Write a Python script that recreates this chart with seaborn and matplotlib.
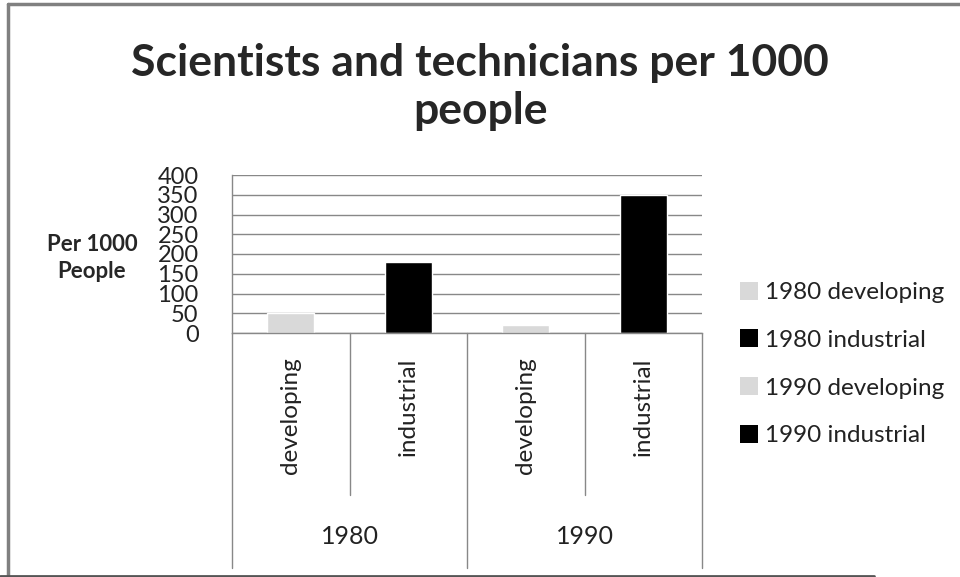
import matplotlib
matplotlib.use("Agg")
import matplotlib.pyplot as plt
import matplotlib.transforms as mtransforms
from matplotlib.patches import Patch
from matplotlib.lines import Line2D
import pandas as pd
import seaborn as sns

# data
years = ["1980", "1980", "1990", "1990"]
groups = ["developing", "industrial", "developing", "industrial"]
values = [50, 180, 20, 350]
bar_colors = ["#d9d9d9", "#000000", "#d9d9d9", "#000000"]
yticks = [0, 50, 100, 150, 200, 250, 300, 350, 400]

series = [f"{y} {g}" for y, g in zip(years, groups)]
df = pd.DataFrame({"series": series, "value": values})

sns.set_style("white")
plt.rcParams["font.family"] = ["Lato", "DejaVu Sans"]

fig = plt.figure(figsize=(9.6, 5.77), dpi=100)
ax = fig.add_axes([232 / 960, 1 - 333 / 577, 470 / 960, 158 / 577])

sns.barplot(data=df, x="series", y="value", hue="series",
            palette=dict(zip(series, bar_colors)), dodge=False,
            width=0.4, legend=False, ax=ax, saturation=1)

ax.set_xlim(-0.5, len(series) - 0.5)
ax.set_ylim(0, 400)
ax.set_yticks(yticks)
ax.set_yticklabels([str(t) for t in yticks], fontsize=17, color="#222222")
ax.yaxis.grid(True, color="#888888", linewidth=1)
ax.set_axisbelow(True)
ax.tick_params(axis="y", length=7, color="#888888", pad=17)
ax.tick_params(axis="x", length=0)
ax.set_xticks([])
ax.set_xlabel("")
ax.set_ylabel("")
for s in ["top", "right"]:
    ax.spines[s].set_visible(False)
for s in ["left", "bottom"]:
    ax.spines[s].set_color("#888888")
    ax.spines[s].set_linewidth(1)

# multi-level category axis
trans = mtransforms.blended_transform_factory(ax.transData, ax.transAxes)
n = len(series)
for i in range(n + 1):
    xpos = i - 0.5
    ybot = -1.49 if i % 2 == 0 else -1.025
    ax.add_line(Line2D([xpos, xpos], [0, ybot], transform=trans,
                       color="#888888", linewidth=1, clip_on=False))
for i, g in enumerate(groups):
    ax.text(i, -0.155, g, transform=trans, rotation=90, ha="center",
            va="top", fontsize=17.5, color="#222222")
for k in range(0, n, 2):
    ax.text(k + 0.5, -1.285, years[k], transform=trans, ha="center",
            va="center", fontsize=18, color="#222222")

# legend
handles = [Patch(facecolor=c, edgecolor="none") for c in bar_colors]
fig.legend(handles, series, loc="center left",
           bbox_to_anchor=(718 / 960, 1 - 364 / 577), frameon=False,
           fontsize=17.5, handlelength=0.75, handleheight=0.75,
           handletextpad=0.3, labelspacing=1.08, labelcolor="#222222")

fig.text(0.5, 1 - 87 / 577, "Scientists and technicians per 1000\npeople",
         ha="center", va="center", fontsize=32, fontweight="bold",
         linespacing=1.25)
fig.text(92 / 960, 1 - 258 / 577, "Per 1000\nPeople", ha="center",
         va="center", fontsize=16, fontweight="bold", linespacing=1.4)

# chart border
border = dict(color="#808080", linewidth=2.5, transform=fig.transFigure)
fig.add_artist(Line2D([8 / 960, 8 / 960], [0, 1 - 4 / 577], **border))
fig.add_artist(Line2D([8 / 960, 1], [1 - 4 / 577, 1 - 4 / 577], **border))
fig.add_artist(Line2D([0, 874 / 960], [1 / 577, 1 / 577], color="#555555",
                      linewidth=2, transform=fig.transFigure))

fig.savefig("out.png", dpi=100)
